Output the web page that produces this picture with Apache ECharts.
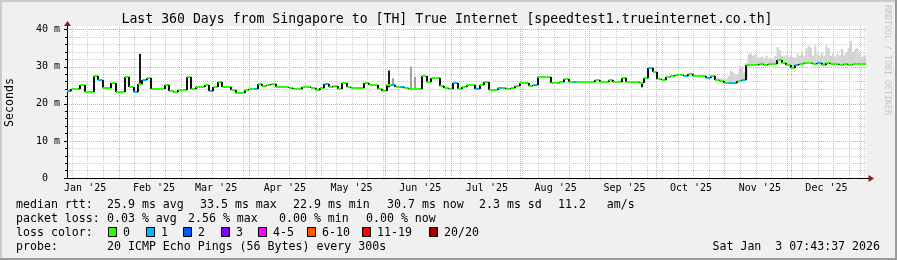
<!DOCTYPE html>
<html><head><meta charset="utf-8">
<script src="https://cdn.jsdelivr.net/npm/echarts@6/dist/echarts.min.js"></script>
<style>html,body{margin:0;padding:0;background:#f0f0f0}#c{width:897px;height:260px}</style>
</head><body><div id="c"></div>
<script>
// ---------------- data ----------------
const startTime = Date.UTC(2025, 0, 8, 7, 43, 37);
const endTime = Date.UTC(2026, 0, 3, 7, 43, 37);
const DAY = 86400000;
const sampleDays = 2; // one consolidated sample per 2 days
// median RTT (ms) per sample
const median = [
23.6,24.1,24.0,25.2,23.2,23.2,27.5,26.5,24.3,24.3,
25.7,23.2,23.2,27.2,24.5,23.2,25.4,26.5,27.0,24.1,
24.1,24.1,25.0,23.5,23.2,23.8,23.8,27.2,24.1,24.5,
24.5,25.2,23.6,24.5,26.0,24.5,24.5,23.8,23.0,23.0,
23.8,24.0,24.1,25.4,24.8,25.2,25.4,24.5,24.5,24.5,
24.3,24.1,24.1,24.5,24.6,24.3,23.8,24.2,25.4,24.6,
24.8,24.1,25.6,24.6,24.3,24.3,24.3,25.6,25.2,25.0,
24.1,23.6,25.2,25.0,24.6,24.5,24.4,24.1,24.1,24.1,
27.6,25.8,27.0,26.9,24.8,24.2,24.1,25.5,24.1,24.5,
25.0,25.0,24.1,25.2,26.0,23.8,23.8,24.3,24.3,24.1,
24.3,24.8,25.7,25.7,24.8,25.0,27.2,27.2,27.2,25.7,
25.7,26.0,26.6,25.9,25.9,25.9,25.9,25.9,25.9,26.4,
25.9,25.9,26.5,25.9,25.9,27.0,25.9,25.9,25.9,25.6,
27.0,29.6,28.7,26.8,26.5,27.2,27.5,27.8,27.8,27.6,
28.0,27.4,27.4,27.4,26.9,27.6,26.3,26.1,25.6,25.6,
25.6,26.2,26.4,30.6,30.5,30.6,30.7,30.6,30.8,30.8,
31.8,31.0,30.5,29.7,30.6,30.8,30.9,31.0,30.8,30.9,
30.6,30.9,30.7,30.7,30.5,30.7,30.6,30.7,30.7,30.7
];
// [sample index, lost pings out of 20]
const lossPoints = [[0,1],[7,1],[15,1],[17,1],[32,1],[42,1],[58,1],[73,1],[75,1],[87,1],[92,1],[97,1],[105,1],[114,1],[131,1],[139,1],[144,1],[149,1],[150,1],[152,1],[164,1],[169,1]];
// upper edge of the smoke (ms), one value per day from smokeStart
const smokeStart = '2025-10-28';
const smokeTop = [
27.0,26.8,27.0,26.5,26.8,27.5,29.0,28.5,27.7,28.0,
30.3,30.0,28.5,31.0,33.5,33.5,33.0,33.5,32.6,32.4,
32.8,32.2,33.0,32.2,32.5,32.2,33.0,35.3,34.5,33.0,
32.8,33.2,32.6,33.0,32.6,32.4,33.5,33.0,33.9,33.0,
35.0,35.7,35.2,33.0,35.7,33.5,33.0,33.7,33.0,35.7,
35.0,33.0,33.5,32.8,33.5,33.0,34.8,33.2,33.9,35.0,
37.0,34.0,34.8,35.0,33.5,32.6,33.0
];
// isolated smoke spikes: [sample index, low ms, high ms, dense(1)/sparse(0)]
const spikes = [[16,25.0,33.5,1],[72,24.5,29.0,1],[73,25.0,26.9,0],[77,24.1,30.1,0],[78,24.1,27.3,0],[129,24.5,25.9,1]];
const monthStarts = ['2025-01-01','2025-02-01','2025-03-01','2025-04-01','2025-05-01','2025-06-01','2025-07-01','2025-08-01','2025-09-01','2025-10-01','2025-11-01','2025-12-01','2026-01-01'];
const monthLabels = ["Jan '25","Feb '25","Mar '25","Apr '25","May '25","Jun '25","Jul '25","Aug '25","Sep '25","Oct '25","Nov '25","Dec '25"];
const firstWeekLine = '2025-01-11';
const lossLabels = ['0','1','2','3','4-5','6-10','11-19','20/20'];
const lossUpper = [0,1,2,3,5,10,19,20];
const rttStats = ['25.9 ms avg','33.5 ms max','22.9 ms min','30.7 ms now','2.3 ms sd','11.2   am/s'];
const lossStats = ['0.03 % avg','2.56 % max','0.00 % min','0.00 % now'];
const probeText = '20 ICMP Echo Pings (56 Bytes) every 300s';
const stampText = 'Sat Jan  3 07:43:37 2026';
const titleText = 'Last 360 Days from Singapore to [TH] True Internet [speedtest1.trueinternet.co.th]';

// ---------------- styles / layout ----------------
const lossColors = ['#26ff00','#00b8ff','#0059ff','#7e00ff','#ff00ff','#ff5500','#ff0000','#a10000'];
const MONO = 'DejaVu Sans Mono';
const legendBoxX = [108,146,183,221,258,307,362,429];
const rttX = [107,200,293,387,479,558];
const lossX = [107,188,279,366];
const rowY = [204.5,218.5,232.5,246.5];

// ---------------- build ----------------
const ts = s => Date.parse(s + 'T00:00:00Z');
const STEP = sampleDays * DAY;
const lossBySample = median.map(() => 0);
lossPoints.forEach(([i, n]) => { lossBySample[i] = n; });
const lossColor = n => lossColors[lossUpper.findIndex(u => n <= u)];

// [start, value, end, loss, previous value]
const medData = median.map((v, i) => [startTime + i * STEP, v, Math.min(startTime + (i + 1) * STEP, endTime), lossBySample[i], i > 0 ? median[i - 1] : v]);
const smokeData = smokeTop.map((top, k) => {
  const t = ts(smokeStart) + k * DAY;
  const t2 = k === smokeTop.length - 1 ? endTime : t + DAY;
  const si = Math.min(median.length - 1, Math.floor((t - startTime) / STEP));
  return [t, top, t2, median[si]];
});
const spikeData = spikes.map(([i, lo, hi, d]) => [startTime + (i + 0.5) * STEP, lo, hi, d]);

const gridData = [];
for (let t = ts(firstWeekLine); t <= endTime; t += 7 * DAY) gridData.push([t, 0, 0]);
monthStarts.forEach(s => { const t = ts(s); if (t > startTime && t <= endTime) gridData.push([t, 0, 1]); });
const labelData = monthLabels.map((l, i) => [ts(monthStarts[i]) + 15.5 * DAY, 0, i]);

const F = '11.6px "' + MONO + '"';
const graphics = [
  {type:'rect', shape:{x:67, y:26, width:799, height:4}, style:{fill:'#fff'}, z:-1},
  {type:'rect', shape:{x:0, y:0, width:897, height:2}, style:{fill:'#cbcbcb'}},
  {type:'rect', shape:{x:0, y:0, width:2, height:260}, style:{fill:'#cbcbcb'}},
  {type:'rect', shape:{x:0, y:258, width:897, height:2}, style:{fill:'#999'}},
  {type:'rect', shape:{x:895, y:0, width:2, height:260}, style:{fill:'#999'}},
  {type:'line', shape:{x1:67.5, y1:23, x2:67.5, y2:30}, style:{stroke:'#000', lineWidth:1}},
  {type:'line', shape:{x1:866, y1:178.5, x2:870, y2:178.5}, style:{stroke:'#000', lineWidth:1}},
  {type:'polygon', shape:{points:[[64,26],[71,26],[67.5,21]]}, style:{fill:'#8b1a1a'}},
  {type:'polygon', shape:{points:[[868.5,175],[868.5,182],[874,178.5]]}, style:{fill:'#8b1a1a'}},
  {type:'text', x:447, y:19.5, style:{text:titleText, font:'13.2px "' + MONO + '"', fill:'#000', textAlign:'center', textVerticalAlign:'middle'}},
  {type:'text', x:10, y:102.5, rotation:Math.PI/2, style:{text:'Seconds', font:F, fill:'#000', textAlign:'center', textVerticalAlign:'middle'}},
  {type:'text', x:887, y:60, rotation:-Math.PI/2, style:{text:'RRDTOOL / TOBI OETIKER', font:'8.3px "' + MONO + '"', fill:'#c4c4c4', textAlign:'center', textVerticalAlign:'middle'}},
  {type:'text', x:16, y:rowY[0], style:{text:'median rtt:', font:F, fill:'#000', textVerticalAlign:'middle'}},
  {type:'text', x:16, y:rowY[1], style:{text:'packet loss:', font:F, fill:'#000', textVerticalAlign:'middle'}},
  {type:'text', x:16, y:rowY[2], style:{text:'loss color:', font:F, fill:'#000', textVerticalAlign:'middle'}},
  {type:'text', x:16, y:rowY[3], style:{text:'probe:', font:F, fill:'#000', textVerticalAlign:'middle'}},
  {type:'text', x:107, y:rowY[3], style:{text:probeText, font:F, fill:'#000', textVerticalAlign:'middle'}},
  {type:'text', x:880, y:rowY[3], style:{text:stampText, font:F, fill:'#000', textAlign:'right', textVerticalAlign:'middle'}}
];
rttStats.forEach((s, i) => graphics.push({type:'text', x:rttX[i], y:rowY[0], style:{text:s, font:F, fill:'#000', textVerticalAlign:'middle'}}));
lossStats.forEach((s, i) => graphics.push({type:'text', x:lossX[i], y:rowY[1], style:{text:s, font:F, fill:'#000', textVerticalAlign:'middle'}}));
lossLabels.forEach((l, i) => {
  graphics.push({type:'rect', shape:{x:legendBoxX[i] + 0.5, y:227.5, width:8, height:9}, style:{fill:lossColors[i], stroke:'#000', lineWidth:1}});
  graphics.push({type:'text', x:legendBoxX[i] + 15, y:rowY[2], style:{text:l, font:F, fill:'#000', textVerticalAlign:'middle'}});
});

const chart = echarts.init(document.getElementById('c'), null, {renderer:'canvas'});
chart.setOption({
  animation: false,
  backgroundColor: '#f0f0f0',
  grid: {left:67, right:31, top:29.7, bottom:82, show:true, backgroundColor:'#fff', borderWidth:0},
  xAxis: {type:'time', min:startTime, max:endTime,
    axisLine:{show:true, onZero:false, lineStyle:{color:'#000', width:1}},
    axisTick:{show:false}, axisLabel:{show:false}, splitLine:{show:false}},
  yAxis: {type:'value', min:0, max:40, interval:10,
    axisLine:{show:true, lineStyle:{color:'#000', width:1}},
    axisTick:{show:true, length:3, lineStyle:{color:'#000'}},
    minorTick:{show:true, splitNumber:5, length:2, lineStyle:{color:'#000'}},
    axisLabel:{fontFamily:MONO, fontSize:10, color:'#000', margin:7,
      formatter: v => v === 0 ? '0\u00a0\u00a0' : v + ' m'},
    splitLine:{show:true, lineStyle:{color:'#f4a0a0', type:[1,1]}},
    minorSplitLine:{show:true, lineStyle:{color:'#cccccc', type:[1,1]}}},
  graphic: graphics,
  series: [
    {type:'custom', name:'grid', silent:true, z:1, data:gridData, encode:{x:0, y:1},
      renderItem(params, api) {
        const p0 = api.coord([api.value(0), 0]);
        const p1 = api.coord([api.value(0), 40]);
        const x = Math.round(p0[0]) - 0.5;
        const major = api.value(2) === 1;
        return {type:'line', shape:{x1:x, y1:p0[1], x2:x, y2:p1[1] - 4},
          style:{stroke: major ? '#f4a0a0' : '#cccccc', lineWidth:1, lineDash:[1,1]}};
      }},
    {type:'custom', name:'months', silent:true, z:1, data:labelData, encode:{x:0, y:1},
      renderItem(params, api) {
        const p = api.coord([api.value(0), 0]);
        return {type:'text', x:p[0], y:p[1] + 10, style:{text:monthLabels[api.value(2)], font:'10px "' + MONO + '"', fill:'#000', textAlign:'center', textVerticalAlign:'middle'}};
      }},
    {type:'custom', name:'smoke', silent:true, z:2, data:smokeData, encode:{x:[0,2], y:[1,3]},
      renderItem(params, api) {
        const a = api.coord([api.value(0), api.value(1)]);
        const b = api.coord([api.value(2), api.value(3)]);
        return {type:'rect', shape:{x:a[0], y:a[1], width:b[0] - a[0], height:b[1] - a[1]}, style:{fill:'#d2d2d2'}};
      }},
    {type:'custom', name:'spikes', silent:true, z:2, data:spikeData, encode:{x:0, y:[1,2]},
      renderItem(params, api) {
        const a = api.coord([api.value(0), api.value(2)]);
        const b = api.coord([api.value(0), api.value(1)]);
        return {type:'rect', shape:{x:Math.round(a[0]) - 1, y:a[1], width:2, height:b[1] - a[1]},
          style:{fill: api.value(3) === 1 ? '#1a1a1a' : '#a0a0a0'}};
      }},
    {type:'custom', name:'median', silent:true, z:4, data:medData, encode:{x:[0,2], y:[1,4]},
      renderItem(params, api) {
        const a = api.coord([api.value(0), api.value(1)]);
        const b = api.coord([api.value(2), api.value(1)]);
        const p = api.coord([api.value(0), api.value(4)]);
        const y = Math.round(a[1]);
        const yp = Math.round(p[1]);
        const x0 = Math.round(a[0]);
        const children = [];
        if (yp !== y) children.push({type:'line', shape:{x1:x0, y1:yp, x2:x0, y2:y}, style:{stroke:'#111', lineWidth:2}});
        children.push({type:'line', shape:{x1:a[0], y1:y, x2:b[0], y2:y}, style:{stroke:lossColor(api.value(3)), lineWidth:2}});
        return {type:'group', children};
      }}
  ]
});
</script>
</body></html>
